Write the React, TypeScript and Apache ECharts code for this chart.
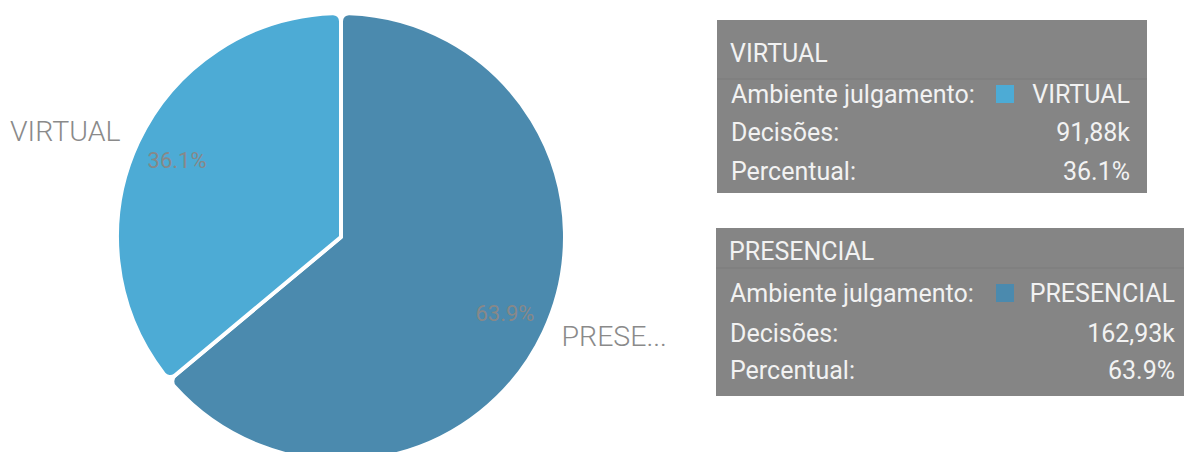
import React, { useEffect, useRef } from "react";
import * as echarts from "echarts";

// ---- data ----
const categories = ["PRESENCIAL", "VIRTUAL"];
const decisoesK = [162.93, 91.88]; // decisões, em milhares
const sliceColors = ["#4b8aae", "#4dabd5"];
const tooltipOrder = ["VIRTUAL", "PRESENCIAL"];
const rowLabels = ["Ambiente julgamento:", "Decisões:", "Percentual:"];

const FONT = "Roboto, 'Noto Sans', sans-serif";

const total = decisoesK.reduce((a, b) => a + b, 0);
const fmtK = (v: number) => v.toFixed(2).replace(".", ",") + "k";
const fmtPct = (v: number) => ((v / total) * 100).toFixed(1) + "%";

type BoxLayout = {
  x: number; y: number; w: number; h: number;
  headerY: number; sepY: number; rowYs: number[]; valueX: number; swatchX: number;
};

const boxLayouts: BoxLayout[] = [
  { x: 717, y: 20, w: 430, h: 173, headerY: 33, sepY: 59, rowYs: [74, 112, 151], valueX: 413, swatchX: 279 },
  { x: 716, y: 228, w: 480, h: 168, headerY: 23, sepY: 40, rowYs: [65, 105, 142], valueX: 459, swatchX: 280 },
];

function buildBox(name: string, L: BoxLayout) {
  const i = categories.indexOf(name);
  const txt = (text: string, x: number, y: number, align: string) => ({
    type: "text",
    x,
    y,
    style: {
      text,
      fill: "#f2f2f2",
      fontSize: 25,
      fontFamily: FONT,
      align,
      verticalAlign: "middle",
    },
  });
  const values = [name, fmtK(decisoesK[i]), fmtPct(decisoesK[i])];
  const children: any[] = [
    { type: "rect", shape: { x: 0, y: 0, width: L.w, height: L.h }, style: { fill: "#858585" } },
    {
      type: "line",
      shape: { x1: 0, y1: L.sepY, x2: L.w, y2: L.sepY },
      style: { stroke: "rgba(0,0,0,0.07)", lineWidth: 1 },
    },
    txt(name, 13, L.headerY, "left"),
    {
      type: "rect",
      shape: { x: L.swatchX, y: L.rowYs[0] - 9, width: 18, height: 18 },
      style: { fill: sliceColors[i] },
    },
  ];
  rowLabels.forEach((lab, r) => {
    children.push(txt(lab, 14, L.rowYs[r], "left"));
    children.push(txt(values[r], L.valueX, L.rowYs[r], "right"));
  });
  return { type: "group", x: L.x, y: L.y, children };
}

export default function App() {
  const ref = useRef<HTMLDivElement>(null);
  useEffect(() => {
    document.body.style.margin = "0";
    const chart = echarts.init(ref.current!, undefined, { renderer: "svg" });
    const pieData = categories.map((c, i) => ({
      name: c,
      value: decisoesK[i],
      itemStyle: { color: sliceColors[i] },
    }));
    chart.setOption({
      animation: false,
      backgroundColor: "#ffffff",
      series: [
        {
          type: "pie",
          center: [341, 237],
          radius: 224,
          startAngle: 90,
          clockwise: true,
          silent: true,
          avoidLabelOverlap: false,
          data: pieData,
          itemStyle: { borderColor: "#ffffff", borderWidth: 4, borderRadius: 8 },
          label: {
            show: true,
            position: "outside",
            formatter: "{b}",
            color: "#8a8a8a",
            fontSize: 28.5,
            fontWeight: 300,
            fontFamily: FONT,
            width: 118,
            overflow: "truncate",
            ellipsis: "...",
          },
          labelLine: { show: false, length: 25, length2: -10 },
          labelLayout: (p: any) => (p.dataIndex === 0 ? { dy: -6 } : {}),
          emphasis: { disabled: true },
        },
        {
          type: "pie",
          center: [341, 237],
          radius: [168, 188],
          startAngle: 90,
          clockwise: true,
          silent: true,
          percentPrecision: 1,
          data: categories.map((c, i) => ({
            name: c,
            value: decisoesK[i],
            itemStyle: { color: "rgba(0,0,0,0)" },
          })),
          itemStyle: { borderWidth: 0 },
          label: {
            show: true,
            position: "inside",
            formatter: "{d}%",
            color: "#888888",
            fontSize: 22,
            fontFamily: FONT,
          },
          labelLine: { show: false },
          emphasis: { disabled: true },
        },
      ],
      graphic: tooltipOrder.map((n, k) => buildBox(n, boxLayouts[k])),
    });
    return () => chart.dispose();
  }, []);
  return <div ref={ref} style={{ width: 1184, height: 452 }} />;
}
